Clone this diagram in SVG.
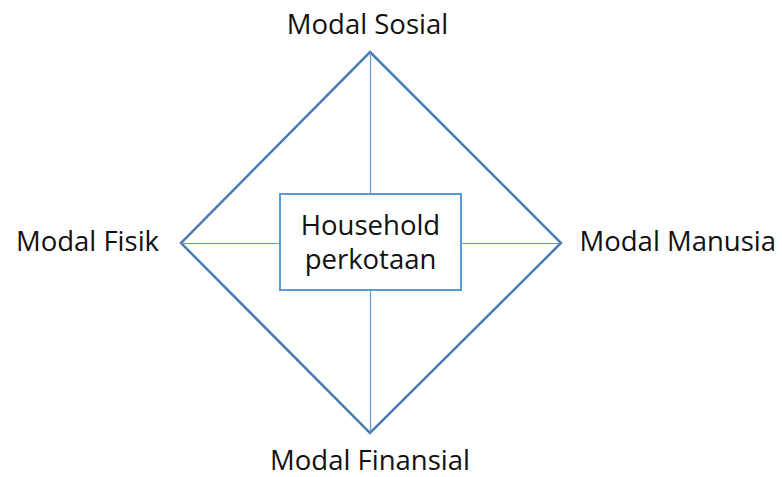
<svg xmlns="http://www.w3.org/2000/svg" width="782" height="477" viewBox="0 0 782 477">
  <style>
    .lbl { font-family: "Open Sans", "Noto Sans", "DejaVu Sans", sans-serif; font-size: 27.5px; fill: #111111; }
    .spoke { stroke: #5b9bd5; stroke-width: 1.2; fill: none; }
    .frame { stroke: #4a7db5; stroke-width: 2.5; fill: none; stroke-linejoin: miter; }
    .box { stroke: #5b9bd5; stroke-width: 2; fill: #ffffff; }
  </style>
  <rect width="782" height="477" fill="#ffffff"/>

  <!-- connectors: diamond outline and spokes to the central box -->
  <g id="connectors">
    <polygon class="frame" points="370,52 561,243 370,433 181,243"/>
    <line class="spoke" x1="370.5" y1="52" x2="370.5" y2="194"/>
    <line class="spoke" x1="370.5" y1="290" x2="370.5" y2="433"/>
    <line class="spoke" x1="181" y1="243.5" x2="280" y2="243.5"/>
    <line class="spoke" x1="461" y1="243.5" x2="561" y2="243.5"/>
  </g>

  <g id="household">
    <rect class="box" x="280" y="194" width="181" height="96"/>
    <text class="lbl" x="370.5" y="235" text-anchor="middle">Household</text>
    <text class="lbl" x="370.5" y="269" text-anchor="middle">perkotaan</text>
  </g>

  <g id="modal-sosial">
    <text class="lbl" x="367.5" y="34" text-anchor="middle">Modal Sosial</text>
  </g>
  <g id="modal-fisik">
    <text class="lbl" x="87.5" y="251" text-anchor="middle">Modal Fisik</text>
  </g>
  <g id="modal-manusia">
    <text class="lbl" x="579.5" y="251">Modal Manusia</text>
  </g>
  <g id="modal-finansial">
    <text class="lbl" x="370" y="469.5" text-anchor="middle">Modal Finansial</text>
  </g>
</svg>
